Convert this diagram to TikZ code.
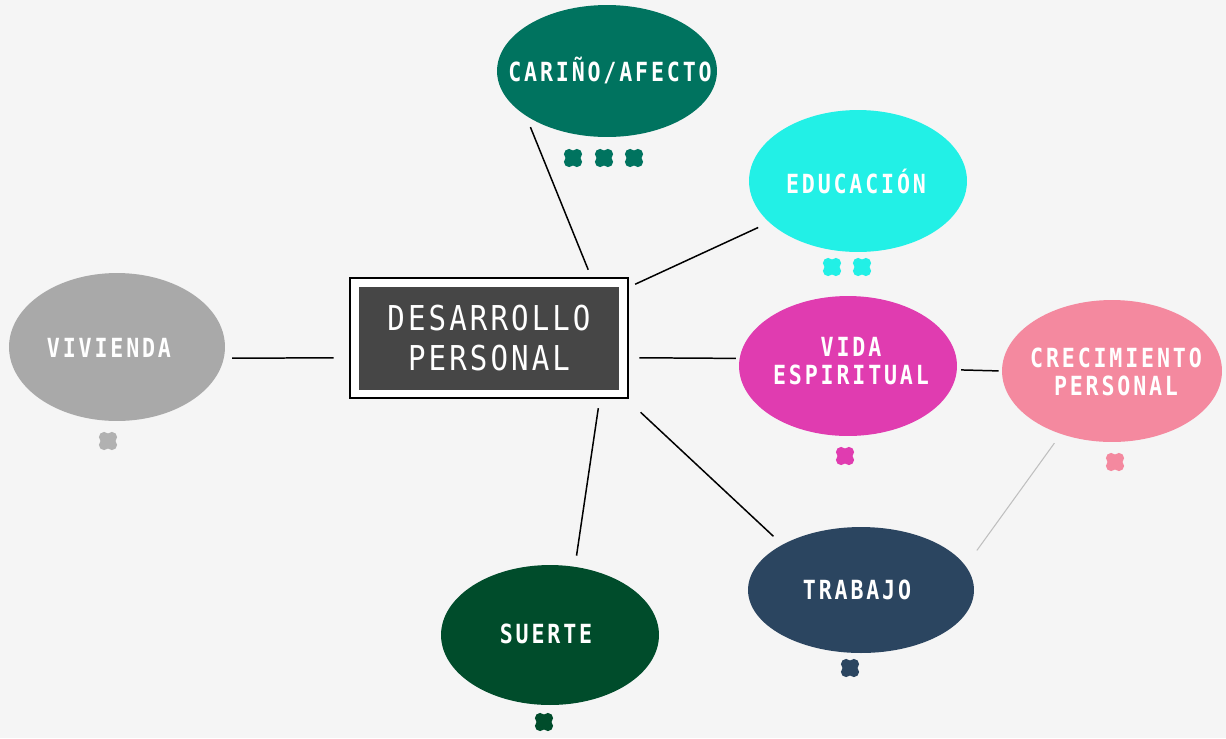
\documentclass[tikz,border=0pt]{standalone}
\usepackage{fontspec}
\setmonofont{DejaVu Sans Mono}
\newfontfamily\bubfont[FakeStretch=0.82, LetterSpace=10.8]{DejaVu Sans Mono}
\newfontfamily\boxfont[FakeStretch=0.85, LetterSpace=9]{DejaVu Sans Mono}
\usetikzlibrary{shapes.geometric}
\definecolor{bg}{HTML}{F5F5F5}
\definecolor{carino}{HTML}{00735F}
\definecolor{edu}{HTML}{22F0E6}
\definecolor{vida}{HTML}{E03CB0}
\definecolor{crec}{HTML}{F4899F}
\definecolor{trabajo}{HTML}{2B4560}
\definecolor{suerte}{HTML}{004C2B}
\definecolor{viv}{HTML}{A9A9A9}
\definecolor{dpgray}{HTML}{464646}
\tikzset{
	bubble/.style={ellipse, inner sep=0pt},
	btext/.style={text=white, align=center, font=\bubfont\bfseries\fontsize{15}{16}\selectfont},
	link/.style={line width=0.85pt, black},
	thinlink/.style={line width=0.6pt, black!25},
	clover/.pic={\foreach \a in {45,135,225,315} \fill (\a:5.5) circle (5.2);}
}

\begin{document}
\begin{tikzpicture}[x=0.02cm, y=-0.02cm]
	\useasboundingbox (0,0) rectangle (1226,738);
	\fill[bg] (0,0) rectangle (1226,738);
	\node[draw=black, line width=1.5pt, fill=white, inner sep=0pt, minimum width=5.56cm, minimum height=2.4cm,
		path picture={\fill[dpgray] ([xshift=0.18cm,yshift=-0.17cm]path picture bounding box.north west) rectangle ([xshift=-0.18cm,yshift=0.17cm]path picture bounding box.south east);},
		text=white, align=center, font=\boxfont\fontsize{19.5}{22.7}\selectfont] (dp) at (489,338) {DESARROLLO\\PERSONAL};
	\node[bubble, fill=carino, minimum width=4.4cm, minimum height=2.64cm] (carino) at (607,71) {};
	\node[bubble, fill=edu, minimum width=4.36cm, minimum height=2.84cm] (edu) at (858,181) {};
	\node[bubble, fill=vida, minimum width=4.36cm, minimum height=2.8cm] (vida) at (848,366) {};
	\node[bubble, fill=crec, minimum width=4.4cm, minimum height=2.84cm] (crec) at (1112,371) {};
	\node[bubble, fill=trabajo, minimum width=4.52cm, minimum height=2.52cm] (trabajo) at (861,590) {};
	\node[bubble, fill=suerte, minimum width=4.36cm, minimum height=2.8cm] (suerte) at (550,635) {};
	\node[bubble, fill=viv, minimum width=4.32cm, minimum height=2.96cm] (viv) at (117,347) {};
	\node[btext] (carino-t) at (610,70) {CARIÑO/AFECTO};
	\node[btext] (edu-t) at (856,181) {EDUCACIÓN};
	\node[btext] (vida-t) at (851,361) {VIDA\\ESPIRITUAL};
	\node[btext] (crec-t) at (1116,372) {CRECIMIENTO\\PERSONAL};
	\node[btext] (trabajo-t) at (857,590) {TRABAJO};
	\node[btext] (suerte-t) at (546,634) {SUERTE};
	\node[btext] (viv-t) at (109,348) {VIVIENDA};
	\draw[link, shorten <=0.24cm, shorten >=0.15cm] (carino.209) -- (dp.31);
	\draw[link, shorten <=0.24cm, shorten >=0.13cm] (edu.205) -- (dp.20);
	\draw[link, shorten <=0.2cm, shorten >=0.07cm] (dp.-8) -- (vida.176);
	\draw[link, shorten <=0.08cm, shorten >=0.06cm] (vida.-2) -- (crec.180);
	\draw[link, shorten <=0.16cm, shorten >=0.3cm] (viv.-6) -- (dp.188);
	\draw[link, shorten <=0.18cm, shorten >=0.22cm] (dp.-29) -- (suerte.70);
	\draw[link, shorten <=0.38cm, shorten >=0.24cm] (dp.-24) -- (trabajo.150);
	\draw[thinlink, shorten <=0.38cm, shorten >=0.22cm] (trabajo.13) -- (crec.231);
	\foreach \x in {573,604,634} \pic[carino] at (\x,158) {clover};
	\foreach \x in {832,862} \pic[edu] at (\x,267) {clover};
	\pic[viv!90] at (108,441) {clover};
	\pic[vida] at (845,456) {clover};
	\pic[crec] at (1115,462) {clover};
	\pic[trabajo] at (850,668) {clover};
	\pic[suerte] at (544,722) {clover};
\end{tikzpicture}
\end{document}
